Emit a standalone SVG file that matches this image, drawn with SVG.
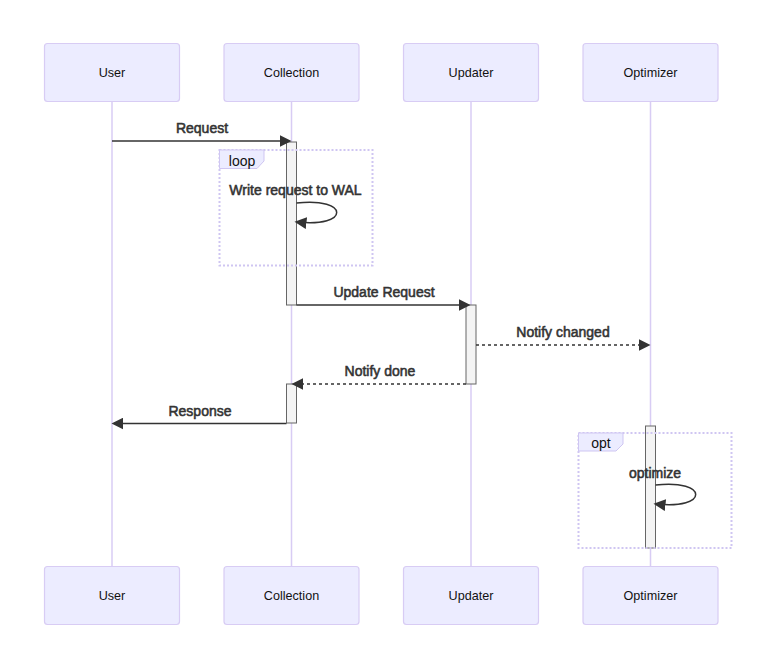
<svg xmlns="http://www.w3.org/2000/svg" width="784" height="669" viewBox="0 0 784 669">
<defs>
<marker id="arrow" viewBox="0 0 10 10" refX="7.9" refY="5" markerWidth="12" markerHeight="12" markerUnits="userSpaceOnUse" orient="auto">
<path d="M 0 0 L 10 5 L 0 10 z" fill="#333" stroke="none"/>
</marker>
</defs>
<style>
.actor{fill:#ECECFF;stroke:#D8CCF4;stroke-width:1.2}
.atext{font-family:"Liberation Sans",Arial,sans-serif;font-size:12.6px;fill:#111;text-anchor:middle;dominant-baseline:central}
.life{stroke:#D8CCF4;stroke-width:1.5}
.msg{stroke:#333;stroke-width:1.5;fill:none}
.dash{stroke-dasharray:3,3}
.mtext{font-family:"Liberation Sans",Arial,sans-serif;font-size:14px;fill:#333;stroke:#333;stroke-width:0.55;text-anchor:middle}
.act{fill:#F4F4F4;stroke:#666;stroke-width:1}
.frame{fill:none;stroke:#CFC6F2;stroke-width:2;stroke-dasharray:2,2}
.tab{fill:#ECECFF;stroke:#CFC6F2;stroke-width:1}
.ltext{font-family:"Liberation Sans",Arial,sans-serif;font-size:14px;fill:#111;text-anchor:middle}
</style>
<rect width="784" height="669" fill="#fff"/>
<g id="lifelines">
<line class="life" x1="112" y1="101" x2="112" y2="566"/>
<line class="life" x1="291.5" y1="101" x2="291.5" y2="566"/>
<line class="life" x1="471" y1="101" x2="471" y2="566"/>
<line class="life" x1="650.5" y1="101" x2="650.5" y2="566"/>
</g>
<g id="actor-User-top"><rect class="actor" x="44.5" y="43.5" width="135" height="58" rx="3"/><text class="atext" x="112" y="72.5">User</text></g>
<g id="actor-Collection-top"><rect class="actor" x="224" y="43.5" width="135" height="58" rx="3"/><text class="atext" x="291.5" y="72.5">Collection</text></g>
<g id="actor-Updater-top"><rect class="actor" x="403.5" y="43.5" width="135" height="58" rx="3"/><text class="atext" x="471" y="72.5">Updater</text></g>
<g id="actor-Optimizer-top"><rect class="actor" x="583" y="43.5" width="135" height="58" rx="3"/><text class="atext" x="650.5" y="72.5">Optimizer</text></g>
<g id="actor-User-bottom"><rect class="actor" x="44.5" y="566.5" width="135" height="58" rx="3"/><text class="atext" x="112" y="595.5">User</text></g>
<g id="actor-Collection-bottom"><rect class="actor" x="224" y="566.5" width="135" height="58" rx="3"/><text class="atext" x="291.5" y="595.5">Collection</text></g>
<g id="actor-Updater-bottom"><rect class="actor" x="403.5" y="566.5" width="135" height="58" rx="3"/><text class="atext" x="471" y="595.5">Updater</text></g>
<g id="actor-Optimizer-bottom"><rect class="actor" x="583" y="566.5" width="135" height="58" rx="3"/><text class="atext" x="650.5" y="595.5">Optimizer</text></g>
<g id="activations">
<rect class="act" x="286.5" y="142" width="10" height="163"/>
<rect class="act" x="466" y="305" width="10" height="79"/>
<rect class="act" x="286.5" y="384" width="10" height="39"/>
<rect class="act" x="645.5" y="426" width="10" height="122"/>
</g>
<g id="loop-frame">
<rect class="frame" x="219.5" y="150" width="153" height="115.5"/>
<polygon class="tab" points="219.5,150 264,150 264,161 257,168.5 219.5,168.5"/>
<text class="ltext" x="242" y="165.5">loop</text>
</g>
<g id="opt-frame">
<rect class="frame" x="578.5" y="433" width="153" height="115"/>
<polygon class="tab" points="578.5,433 623,433 623,444 616,451 578.5,451"/>
<text class="ltext" x="601" y="447.5">opt</text>
</g>
<g id="connectors">
<line class="msg" x1="112" y1="141" x2="289" y2="141" marker-end="url(#arrow)"/>
<path class="msg" d="M 296.5 203 C 350 197 350 228 297 222" marker-end="url(#arrow)"/>
<line class="msg" x1="296.5" y1="305" x2="468" y2="305" marker-end="url(#arrow)"/>
<line class="msg dash" x1="476" y1="345" x2="648" y2="345" marker-end="url(#arrow)"/>
<line class="msg dash" x1="466" y1="384" x2="294" y2="384" marker-end="url(#arrow)"/>
<line class="msg" x1="286.5" y1="423.5" x2="114" y2="423.5" marker-end="url(#arrow)"/>
<path class="msg" d="M 655.5 485 C 709 479 709 510 656 504" marker-end="url(#arrow)"/>
</g>
<g id="labels">
<text class="mtext" x="202" y="133">Request</text>
<text class="mtext" x="295.5" y="195">Write request to WAL</text>
<text class="mtext" x="384" y="297">Update Request</text>
<text class="mtext" x="563" y="337">Notify changed</text>
<text class="mtext" x="380" y="376">Notify done</text>
<text class="mtext" x="200" y="416">Response</text>
<text class="mtext" x="655" y="478">optimize</text>
</g>
</svg>
